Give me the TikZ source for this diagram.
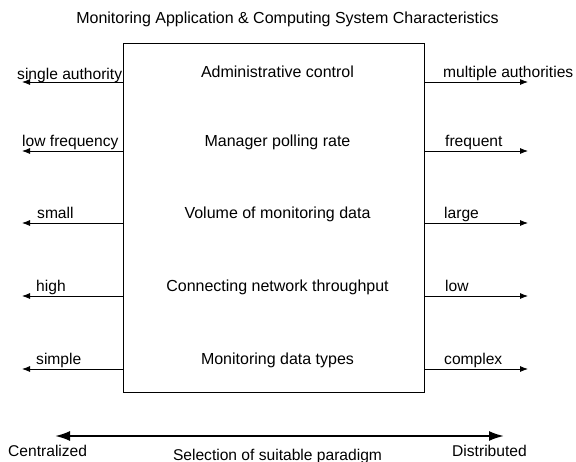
\documentclass[tikz,border=0pt]{standalone}
\usepackage{fontspec}
\setmainfont{Liberation Sans}
\usepackage{tikz}
\usetikzlibrary{calc,arrows.meta}

\begin{document}
\begin{tikzpicture}
    [%%%%%%%%%%%%%%%%%%%%%%%%%%%%%%
        x=1pt,y=-1pt,
        lbl/.style={inner sep=0pt,font=\fontsize{15.6}{18}\selectfont},
        big lbl/.style={inner sep=0pt,font=\fontsize{16}{19}\selectfont},
        side/.style={line width=0.8pt,-{Latex[length=8pt,width=6pt]}},
        scale arrow/.style={line width=2pt,{Latex[length=15pt,width=10pt]}-{Latex[length=15pt,width=10pt]}},
    ]%%%%%%%%%%%%%%%%%%%%%%%%%%%%%%

\useasboundingbox (0,0) rectangle (576,461);

\node[big lbl,anchor=base] (title) at (287.5,23)
	{Monitoring Application \& Computing System Characteristics};

\node[draw,line width=0.8pt,inner sep=0pt,minimum width=301pt,minimum height=349pt] (box) at (273.5,217.5){ };

\foreach \i/\y/\mid/\lx/\left/\rx/\right/\d in {%
	1/82/Administrative control/17/single authority/443/multiple authorities/3,
	2/151/Manager polling rate/22/low frequency/445/frequent/5,
	3/223/Volume of monitoring data/37/small/444/large/5,
	4/296/Connecting network throughput/36/high/445/low/5,
	5/369/Monitoring data types/36/simple/444/complex/5}{
	\node[big lbl,anchor=base] (mid\i) at (277.5,\y-5){\mid};
	\coordinate (l\i) at (22,\y);
	\coordinate (r\i) at (528,\y);
	\draw[side] (box.west |- l\i) -- (l\i);
	\draw[side] (box.east |- r\i) -- (r\i);
	\node[lbl,anchor=base west] (lt\i) at (\lx,\y-\d){\left};
	\node[lbl,anchor=base west] (rt\i) at (\rx,\y-5){\right};
%	\node[circle,draw=blue,fill,inner sep=1pt] at (l\i){ };
}

% paradigm scale
\coordinate (cen) at (55,436);
\coordinate (dis) at (504,436);
\draw[scale arrow] (cen) -- (dis);
\node[lbl,anchor=base west] (centr) at (8,456){Centralized};
\node[lbl,anchor=base west] (distr) at (452,456){Distributed};
\node[lbl,anchor=base] (select) at (277.5,460){Selection of suitable paradigm};

\end{tikzpicture}
\end{document}
